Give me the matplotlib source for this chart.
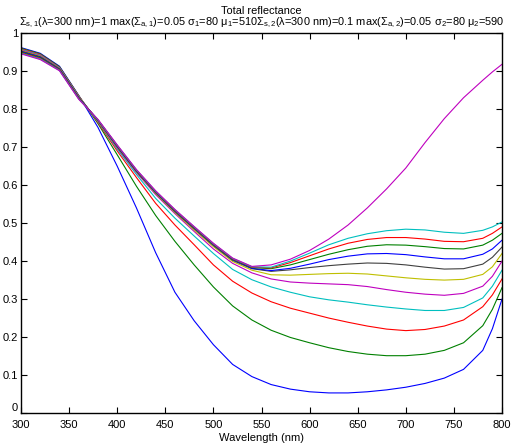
import matplotlib
matplotlib.use('Agg')
import matplotlib.pyplot as plt

plt.rcParams['font.family'] = ['Liberation Sans', 'DejaVu Sans']
plt.rcParams['mathtext.fontset'] = 'custom'
plt.rcParams['mathtext.rm'] = 'Liberation Sans'
plt.rcParams['mathtext.it'] = 'Liberation Sans'
plt.rcParams['mathtext.default'] = 'regular'

# wavelengths (nm) the curves were read at
wavelength = [300, 320, 340, 360, 380, 400, 420, 440, 460, 480, 500, 520, 540,
              560, 580, 600, 620, 640, 660, 680, 700, 720, 740, 760, 780, 790, 800]

# total reflectance, one list per curve (bottom curve at the right first)
r1 = [0.962, 0.947, 0.913, 0.836, 0.752, 0.650, 0.540, 0.422, 0.318, 0.243, 0.180, 0.128, 0.096,
      0.075, 0.063, 0.056, 0.053, 0.053, 0.056, 0.061, 0.068, 0.078, 0.092, 0.115, 0.165, 0.222, 0.300]
r2 = [0.9605, 0.9455, 0.9115, 0.8355, 0.762, 0.680, 0.597, 0.520, 0.452, 0.390, 0.332, 0.282, 0.245,
      0.218, 0.199, 0.185, 0.172, 0.162, 0.155, 0.151, 0.151, 0.155, 0.165, 0.185, 0.230, 0.273, 0.330]
r3 = [0.959, 0.944, 0.910, 0.835, 0.765, 0.690, 0.620, 0.552, 0.495, 0.443, 0.390, 0.347, 0.316,
      0.293, 0.276, 0.263, 0.250, 0.239, 0.229, 0.221, 0.217, 0.220, 0.229, 0.245, 0.280, 0.311, 0.353]
r4 = [0.9575, 0.9425, 0.909, 0.834, 0.767, 0.695, 0.628, 0.565, 0.513, 0.466, 0.420, 0.378, 0.351,
      0.332, 0.318, 0.306, 0.298, 0.292, 0.285, 0.279, 0.274, 0.270, 0.270, 0.278, 0.303, 0.334, 0.376]
r5 = [0.956, 0.941, 0.908, 0.833, 0.768, 0.698, 0.633, 0.575, 0.525, 0.478, 0.432, 0.394, 0.369,
      0.353, 0.345, 0.342, 0.340, 0.338, 0.333, 0.325, 0.318, 0.313, 0.310, 0.315, 0.334, 0.360, 0.400]
r6 = [0.9545, 0.9395, 0.907, 0.832, 0.769, 0.700, 0.635, 0.578, 0.528, 0.482, 0.438, 0.399, 0.376,
      0.364, 0.363, 0.365, 0.367, 0.368, 0.366, 0.361, 0.356, 0.352, 0.350, 0.352, 0.365, 0.385, 0.420]
r7 = [0.953, 0.938, 0.906, 0.831, 0.770, 0.701, 0.636, 0.580, 0.530, 0.485, 0.441, 0.402, 0.380,
      0.373, 0.377, 0.383, 0.388, 0.392, 0.395, 0.394, 0.390, 0.384, 0.379, 0.380, 0.392, 0.410, 0.437]
r8 = [0.9515, 0.9365, 0.905, 0.830, 0.771, 0.702, 0.637, 0.581, 0.532, 0.487, 0.443, 0.404, 0.381,
      0.375, 0.381, 0.392, 0.404, 0.413, 0.419, 0.420, 0.417, 0.411, 0.406, 0.406, 0.418, 0.432, 0.455]
r9 = [0.950, 0.935, 0.904, 0.829, 0.771, 0.703, 0.638, 0.582, 0.533, 0.488, 0.444, 0.405, 0.383,
      0.380, 0.390, 0.404, 0.418, 0.430, 0.439, 0.443, 0.442, 0.438, 0.433, 0.432, 0.442, 0.455, 0.473]
r10 = [0.9485, 0.9335, 0.903, 0.828, 0.772, 0.704, 0.639, 0.583, 0.534, 0.489, 0.445, 0.406, 0.384,
       0.382, 0.396, 0.414, 0.432, 0.447, 0.457, 0.462, 0.462, 0.458, 0.452, 0.451, 0.460, 0.473, 0.490]
r11 = [0.947, 0.932, 0.902, 0.827, 0.772, 0.705, 0.640, 0.584, 0.535, 0.490, 0.446, 0.407, 0.385,
       0.384, 0.400, 0.421, 0.443, 0.460, 0.472, 0.480, 0.484, 0.482, 0.476, 0.473, 0.481, 0.490, 0.503]
r12 = [0.9455, 0.9305, 0.901, 0.826, 0.773, 0.706, 0.641, 0.585, 0.536, 0.491, 0.447, 0.408, 0.386,
       0.390, 0.405, 0.428, 0.458, 0.495, 0.540, 0.590, 0.645, 0.712, 0.775, 0.830, 0.876, 0.898, 0.918]

curves = [r1, r2, r3, r4, r5, r6, r7, r8, r9, r10, r11, r12]

# old matlab colour order b g r c m y k
matlab_colors = [(0, 0, 1), (0, 0.5, 0), (1, 0, 0), (0, 0.75, 0.75),
                 (0.75, 0, 0.75), (0.75, 0.75, 0), (0.25, 0.25, 0.25)]

fig = plt.figure(figsize=(5.12, 4.48), dpi=100)
ax = fig.add_axes([0.041, 0.078, 0.9395, 0.848])

for i, r in enumerate(curves):
    ax.plot(wavelength, r, color=matlab_colors[i % 7], lw=0.8)

ax.set_xlim(300, 800)
ax.set_ylim(0, 1)
ax.set_xticks(range(300, 801, 50))
ax.set_yticks([i / 10 for i in range(11)])
ax.set_yticklabels(['0', '0.1', '0.2', '0.3', '0.4', '0.5', '0.6', '0.7', '0.8', '0.9', '1'])
ax.tick_params(direction='in', top=True, right=True, labelsize=8, length=4, width=0.8)
ax.tick_params(axis='x', pad=5)
ax.tick_params(axis='y', pad=2)
# nudge the "0" label up a little so it clears "300"
ax.get_yticklabels()[0].set_verticalalignment('bottom')
for s in ax.spines.values():
    s.set_linewidth(1.0)

ax.set_xlabel('Wavelength (nm)', fontsize=8, labelpad=2)
ax.set_title('Total reflectance\n'
             r'$\Sigma_{s,1}$(λ=300 nm)=1 max($\Sigma_{a,1}$)=0.05 $\sigma_1$=80 $\mu_1$=510'
             r'$\Sigma_{s,2}$(λ=300 nm)=0.1 max($\Sigma_{a,2}$)=0.05 $\sigma_2$=80 $\mu_2$=590',
             fontsize=7.9, pad=6, linespacing=0.95)

fig.savefig('out.png', dpi=100)
